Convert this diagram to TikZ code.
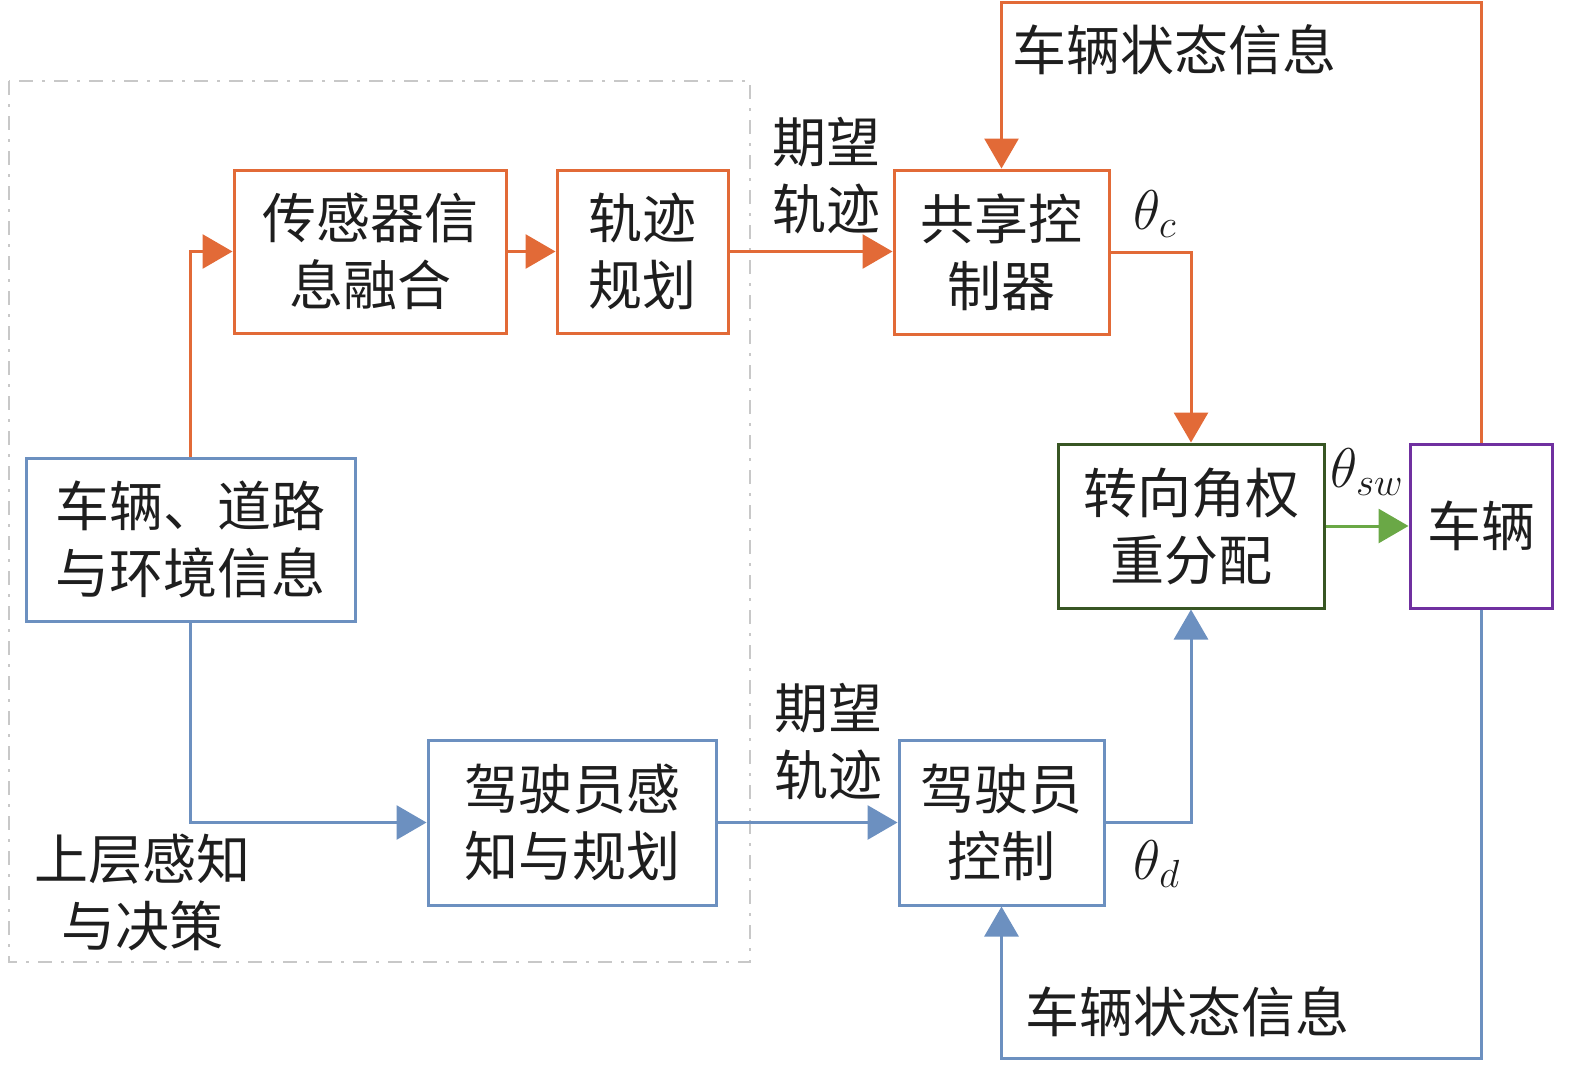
\RequirePackage{fix-cm}
\documentclass[tikz,border=0pt]{standalone}
\usepackage{fontspec}
\newfontfamily\cjk{Noto Sans CJK SC}
\usetikzlibrary{arrows.meta}
\definecolor{corange}{RGB}{226,106,55}
\definecolor{cblue}{RGB}{108,144,192}
\definecolor{cdgreen}{RGB}{56,86,35}
\definecolor{cpurple}{RGB}{112,48,160}
\definecolor{cgreen}{RGB}{106,168,70}
\definecolor{cgray}{RGB}{200,200,200}
\definecolor{ctext}{RGB}{30,30,30}
\tikzset{
  every node/.style={text=ctext},
  cn/.style={font=\cjk\fontsize{27}{33.5}\selectfont, align=center, inner sep=0pt},
  blk/.style={cn, draw, line width=1.5pt, fill=white},
  ob/.style={blk, draw=corange},
  bb/.style={blk, draw=cblue},
  tipA/.style={-{Triangle[length=15pt,width=17pt]}},
  oarr/.style={tipA, color=corange, line width=1.5pt},
  barr/.style={tipA, color=cblue, line width=1.5pt},
  garr/.style={tipA, color=cgreen, line width=1.5pt},
  mth/.style={font=\fontsize{28}{30}\selectfont, inner sep=0pt},
}
\begin{document}
\begin{tikzpicture}[x=0.5pt,y=-0.5pt]
\useasboundingbox (0,0) rectangle (1575,1066);
% dashed region
\draw[cgray, line width=1.2pt, dash pattern=on 7pt off 4.5pt on 1.5pt off 4.5pt] (9,81) rectangle (750,962);

% nodes
\node[ob, minimum width=136pt, minimum height=81.5pt] (sens) at (370,251.5) {传感器信\\息融合};
\node[ob, minimum width=85.5pt, minimum height=81.5pt] (traj) at (642.5,251.5) {轨迹\\规划};
\node[ob, minimum width=107.5pt, minimum height=82pt] (share) at (1001.5,252) {共享控\\制器};
\node[blk, draw=cdgreen, minimum width=133pt, minimum height=82pt] (steer) at (1191,526) {转向角权\\重分配};
\node[blk, draw=cpurple, minimum width=71pt, minimum height=82pt] (veh) at (1481,526) {车辆};
\node[bb, minimum width=164.5pt, minimum height=81.5pt] (env) at (190.5,539.5) {车辆、道路\\与环境信息};
\node[bb, minimum width=144pt, minimum height=82.5pt] (dperc) at (572,822.5) {驾驶员感\\知与规划};
\node[bb, minimum width=102.5pt, minimum height=82.5pt] (dctrl) at (1001.5,822.5) {驾驶员\\控制};

\coordinate (top) at (1240,2);
\coordinate (bot) at (1240,1058);

% connectors
\draw[oarr] (env.north) |- (sens.west);
\draw[oarr] (sens.east) -- (traj.west);
\draw[oarr] (traj.east) -- (traj.east -| share.west);
\draw[oarr] (share.east) -| (steer.north);
\draw[oarr] (veh.north) |- (top) -| (share.north);
\draw[garr] (steer.east) -- (veh.west);
\draw[barr] (env.south) |- (dperc.west);
\draw[barr] (dperc.east) -- (dperc.east -| dctrl.west);
\draw[barr] (dctrl.east) -| (steer.south);
\draw[barr] (veh.south) |- (bot) -| (dctrl.south);

% labels
\node[cn] (lab1) at (826,176) {期望\\轨迹};
\node[cn] (lab2) at (828,742) {期望\\轨迹};
\node[cn] (lab3) at (1174,50) {车辆状态信息};
\node[cn] (lab4) at (1187,1012) {车辆状态信息};
\node[cn] (lab5) at (142,892) {上层感知\\与决策};
\node[mth] (thc) at (1155,214) {$\theta_c$};
\node[mth] (thsw) at (1367,472) {$\theta_{sw}$};
\node[mth] (thd) at (1157,864) {$\theta_d$};
\end{tikzpicture}
\end{document}
